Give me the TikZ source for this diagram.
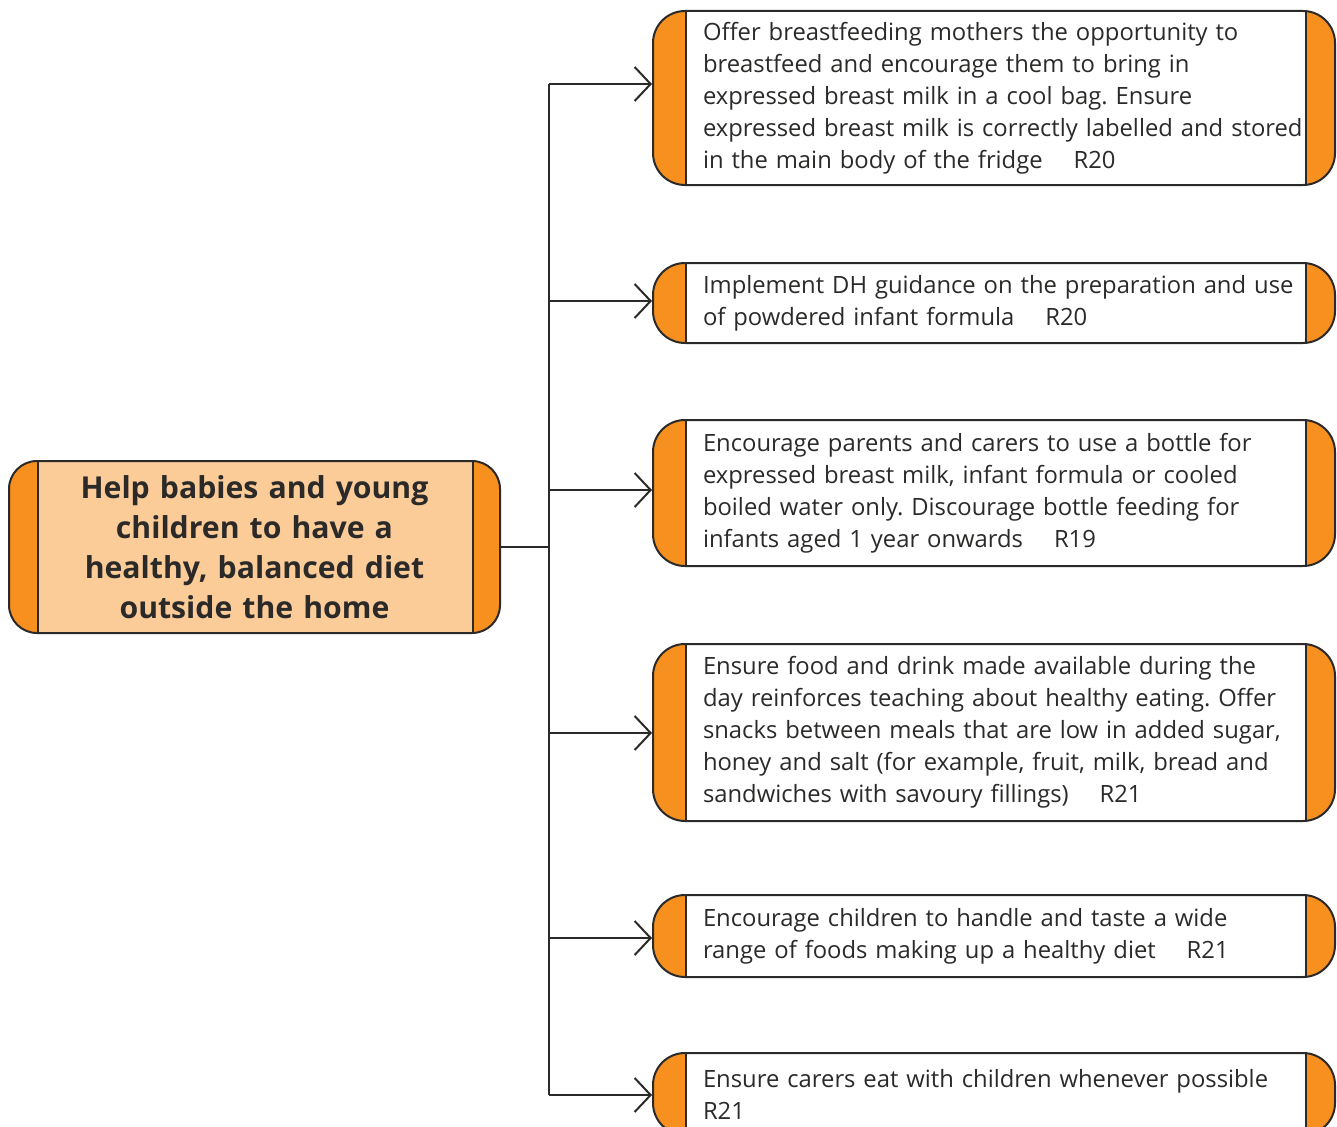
\documentclass[tikz,border=0pt]{standalone}
\usepackage{fontspec}
\setmainfont{Open Sans}
\usetikzlibrary{arrows.meta}
\definecolor{capor}{HTML}{F7901E}
\definecolor{pale}{HTML}{FBCB98}
\definecolor{ink}{HTML}{2B2A29}
\frenchspacing
\begin{document}
\begin{tikzpicture}[x=1pt,y=-1pt,
  capped/.style n args={3}{draw=ink, line width=2pt, rounded corners=#1, inner sep=0pt,
    path picture={
      \fill[capor, sharp corners] (path picture bounding box.south west) rectangle ([xshift=#2]path picture bounding box.north west);
      \fill[capor, sharp corners] (path picture bounding box.south east) rectangle ([xshift=-#3]path picture bounding box.north east);
      \draw[ink, line width=2pt, sharp corners] ([xshift=#2]path picture bounding box.south west) -- ([xshift=#2]path picture bounding box.north west);
      \draw[ink, line width=2pt, sharp corners] ([xshift=-#3]path picture bounding box.south east) -- ([xshift=-#3]path picture bounding box.north east);
    }},
  leaf/.style={capped={32pt}{33pt}{29pt}, fill=white, minimum width=682pt, text width=650pt,
    align=left, text=ink, font=\fontsize{23.8}{32}\selectfont,
    execute at begin node={\leftskip=34pt\relax}},
  hub/.style={capped={28pt}{29pt}{27pt}, fill=pale, minimum width=491pt, minimum height=172pt,
    text width=430pt, align=center, text=ink, font=\fontsize{30.2}{40}\selectfont\bfseries},
  link/.style={draw=ink, line width=2pt},
  feed/.style={link, -{Straight Barb[length=16pt,width=34pt,line width=2pt]}}]
\useasboundingbox (0,0) rectangle (1337,1126);
\clip (0,0) rectangle (1337,1126);

% central goal
\node[hub] (hub) at (254.5,547) {Help babies and young\\ children to have a\\ healthy, balanced diet\\ outside the home};

% recommendations
\node[leaf, minimum height=174pt] (b1) at (994,98) {Offer breastfeeding mothers the opportunity to\\ breastfeed and encourage them to bring in\\ expressed breast milk in a cool bag. Ensure\\ expressed breast milk is correctly labelled and stored\\ in the main body of the fridge\hspace{1.3em}R20};
\node[leaf, minimum height=80pt] (b2) at (994,303) {Implement DH guidance on the preparation and use\\ of powdered infant formula\hspace{1.3em}R20};
\node[leaf, minimum height=146pt] (b3) at (994,493) {Encourage parents and carers to use a bottle for\\ expressed breast milk, infant formula or cooled\\ boiled water only. Discourage bottle feeding for\\ infants aged 1 year onwards\hspace{1.3em}R19};
\node[leaf, minimum height=177pt] (b4) at (994,732.5) {Ensure food and drink made available during the\\ day reinforces teaching about healthy eating. Offer\\ snacks between meals that are low in added sugar,\\ honey and salt (for example, fruit, milk, bread and\\ sandwiches with savoury fillings)\hspace{1.3em}R21};
\node[leaf, minimum height=82pt] (b5) at (994,936) {Encourage children to handle and taste a wide\\ range of foods making up a healthy diet\hspace{1.3em}R21};
\node[leaf, minimum height=82pt] (b6) at (994,1094) {Ensure carers eat with children whenever possible\\ R21};

% branching trunk
\coordinate (t1) at (549,84);
\coordinate (t2) at (549,301);
\coordinate (t3) at (549,490);
\coordinate (t4) at (549,733);
\coordinate (t5) at (549,938);
\coordinate (t6) at (549,1095);
\draw[link] (t1) -- (t6);
\draw[link] (hub.east) -- (hub.east -| t1);
\draw[feed] (t1) -- (t1 -| b1.west);
\draw[feed] (t2) -- (t2 -| b2.west);
\draw[feed] (t3) -- (t3 -| b3.west);
\draw[feed] (t4) -- (t4 -| b4.west);
\draw[feed] (t5) -- (t5 -| b5.west);
\draw[feed] (t6) -- (t6 -| b6.west);
\end{tikzpicture}
\end{document}
